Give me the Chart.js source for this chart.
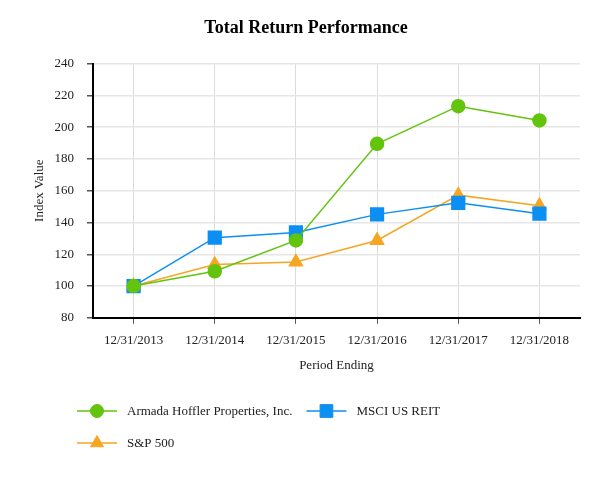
<!DOCTYPE html>
<html>
<head>
<meta charset="utf-8">
<title>Total Return Performance</title>
<script src="https://cdn.jsdelivr.net/npm/chart.js@4/dist/chart.umd.min.js"></script>
<style>
    html, body { margin: 0; padding: 0; background: #fff; }
    #wrap { width: 613px; height: 480px; }
</style>
</head>
<body>
<div id="wrap"><canvas id="perfChart" width="613" height="480"></canvas></div>
<script>
// データ
const periods = ["12/31/2013", "12/31/2014", "12/31/2015", "12/31/2016", "12/31/2017", "12/31/2018"];
const armadaValues = [100, 109.3, 128.7, 189.5, 213.2, 204.2];
const msciValues = [100, 130.4, 133.7, 145.1, 152.4, 145.5];
const spValues = [100, 113.5, 115.1, 128.7, 157.2, 150.6];
const yTicks = [80, 100, 120, 140, 160, 180, 200, 220, 240];

const seriesNames = ["Armada Hoffler Properties, Inc.", "MSCI US REIT", "S&P 500"];
const FONT = "'Liberation Serif', 'Times New Roman', serif";

// 凡例（線＋マーカー）を自前で描く
const legendPlugin = {
    id: 'lineLegend',
    afterDraw(chart) {
        const ctx = chart.ctx;
        const startX = 77;
        const maxX = 480;
        let x = startX;
        let y = 411;
        ctx.save();
        ctx.font = "13px " + FONT;
        ctx.textBaseline = 'middle';
        ctx.textAlign = 'left';
        chart.data.datasets.forEach(ds => {
            const w = 40 + 10 + ctx.measureText(ds.label).width;
            if (x !== startX && x + w > maxX) {
                x = startX;
                y += 32;
            }
            ctx.strokeStyle = ds.borderColor;
            ctx.lineWidth = 1.5;
            ctx.beginPath();
            ctx.moveTo(x, y);
            ctx.lineTo(x + 40, y);
            ctx.stroke();
            ctx.fillStyle = ds.pointBackgroundColor;
            ctx.strokeStyle = ds.pointBackgroundColor;
            ctx.lineWidth = 1;
            Chart.helpers.drawPoint(ctx, {
                pointStyle: ds.pointStyle,
                radius: ds.pointRadius,
                borderWidth: 1,
                rotation: 0
            }, x + 20, y);
            ctx.fillStyle = '#222';
            ctx.fillText(ds.label, x + 50, y + 1);
            x += w + 14;
        });
        ctx.restore();
    }
};

function buildDataset(label, values, color, style, radius) {
    return {
        label: label,
        data: values,
        borderColor: color,
        backgroundColor: color,
        pointBackgroundColor: color,
        pointBorderColor: color,
        pointStyle: style,
        pointRadius: radius,
        pointHoverRadius: radius,
        borderWidth: 1.5,
        tension: 0
    };
}

document.addEventListener('DOMContentLoaded', () => {
    const ctx = document.getElementById('perfChart').getContext('2d');
    new Chart(ctx, {
        type: 'line',
        data: {
            labels: periods,
            datasets: [
                buildDataset(seriesNames[0], armadaValues, '#62c40c', 'circle', 6.5),
                buildDataset(seriesNames[1], msciValues, '#0c8ff2', 'rect', 9),
                buildDataset(seriesNames[2], spValues, '#f5a623', 'triangle', 7.5)
            ]
        },
        options: {
            responsive: false,
            animation: false,
            layout: { padding: { left: 32, right: 33, top: 0, bottom: 103 } },
            plugins: {
                legend: { display: false },
                tooltip: { enabled: false },
                title: {
                    display: true,
                    text: 'Total Return Performance',
                    color: '#000',
                    font: { family: FONT, size: 18, weight: 'bold' },
                    padding: { top: 18, bottom: 24 }
                }
            },
            scales: {
                x: {
                    offset: true,
                    border: { display: true, color: '#000', width: 2 },
                    grid: { color: '#dcdcdc', lineWidth: 1, offset: false, tickLength: 6, tickColor: '#555' },
                    ticks: { color: '#222', padding: 9, font: { family: FONT, size: 13 }, maxRotation: 0 },
                    title: {
                        display: true,
                        text: 'Period Ending',
                        color: '#222',
                        font: { family: FONT, size: 13 },
                        padding: { top: 0, bottom: 4 }
                    }
                },
                y: {
                    min: yTicks[0],
                    max: yTicks[yTicks.length - 1],
                    afterBuildTicks: axis => { axis.ticks = yTicks.map(v => ({ value: v })); },
                    afterFit: axis => { axis.width = 61; },
                    border: { display: true, color: '#000', width: 2 },
                    grid: { color: '#e6e6e6', lineWidth: 1.5, tickLength: 6, tickColor: '#555' },
                    ticks: { color: '#222', padding: 13, font: { family: FONT, size: 13 } },
                    title: {
                        display: true,
                        text: 'Index Value',
                        color: '#222',
                        font: { family: FONT, size: 13 },
                        padding: { top: 0, bottom: 8 }
                    }
                }
            }
        },
        plugins: [legendPlugin]
    });
});
</script>
</body>
</html>
